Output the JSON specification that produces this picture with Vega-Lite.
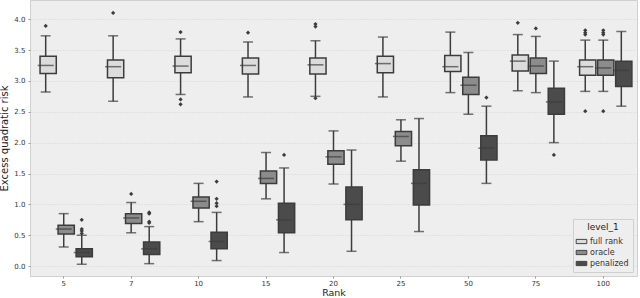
{
  "$schema": "https://vega.github.io/schema/vega-lite/v6.json",
  "autosize": {"type": "none"},
  "padding": {"left": 30, "top": 0, "right": 3, "bottom": 22},
  "width": 607,
  "height": 276,
  "background": "white",
  "config": {
    "font": "DejaVu Sans",
    "view": {"fill": "#eeeeee", "stroke": "#d0d0d0"},
    "axisY": {"title": "Excess quadratic risk", "values": [0, 0.5, 1, 1.5, 2, 2.5, 3, 3.5, 4], "format": ".1f", "labelOverlap": false, "labelFontSize": 7, "labelColor": "#333333", "titleFontSize": 10, "titleFontWeight": "normal", "titleColor": "#222222", "titlePadding": 4, "domain": false, "tickColor": "#999999", "tickSize": 2, "labelPadding": 3, "grid": true, "gridColor": "#cccccc", "gridDash": [1, 2], "gridWidth": 0.8, "zindex": 1},
    "axisX": {"labelAngle": 0, "labelFontSize": 7, "labelColor": "#333333", "titleFontSize": 9.5, "titleFontWeight": "normal", "titleColor": "#222222", "titlePadding": 1, "domain": false, "tickColor": "#999999", "tickSize": 2, "labelPadding": 1, "grid": false}
  },
  "datasets": {
    "boxes": [
      {"rank": "5", "level_1": "full rank", "lo": 2.82, "q1": 3.12, "med": 3.25, "q3": 3.40, "hi": 3.73},
      {"rank": "5", "level_1": "oracle", "lo": 0.31, "q1": 0.52, "med": 0.60, "q3": 0.66, "hi": 0.85},
      {"rank": "5", "level_1": "penalized", "lo": 0.03, "q1": 0.15, "med": 0.22, "q3": 0.28, "hi": 0.50},
      {"rank": "7", "level_1": "full rank", "lo": 2.67, "q1": 3.05, "med": 3.23, "q3": 3.34, "hi": 3.73},
      {"rank": "7", "level_1": "oracle", "lo": 0.54, "q1": 0.69, "med": 0.78, "q3": 0.85, "hi": 1.03},
      {"rank": "7", "level_1": "penalized", "lo": 0.04, "q1": 0.19, "med": 0.28, "q3": 0.39, "hi": 0.64},
      {"rank": "10", "level_1": "full rank", "lo": 2.78, "q1": 3.13, "med": 3.24, "q3": 3.40, "hi": 3.68},
      {"rank": "10", "level_1": "oracle", "lo": 0.72, "q1": 0.94, "med": 1.05, "q3": 1.12, "hi": 1.34},
      {"rank": "10", "level_1": "penalized", "lo": 0.09, "q1": 0.28, "med": 0.40, "q3": 0.55, "hi": 0.87},
      {"rank": "15", "level_1": "full rank", "lo": 2.74, "q1": 3.11, "med": 3.25, "q3": 3.37, "hi": 3.63},
      {"rank": "15", "level_1": "oracle", "lo": 1.09, "q1": 1.34, "med": 1.42, "q3": 1.54, "hi": 1.84},
      {"rank": "15", "level_1": "penalized", "lo": 0.22, "q1": 0.54, "med": 0.75, "q3": 1.02, "hi": 1.59},
      {"rank": "20", "level_1": "full rank", "lo": 2.75, "q1": 3.11, "med": 3.26, "q3": 3.37, "hi": 3.65},
      {"rank": "20", "level_1": "oracle", "lo": 1.33, "q1": 1.65, "med": 1.77, "q3": 1.87, "hi": 2.19},
      {"rank": "20", "level_1": "penalized", "lo": 0.24, "q1": 0.75, "med": 1.00, "q3": 1.28, "hi": 1.88},
      {"rank": "25", "level_1": "full rank", "lo": 2.74, "q1": 3.13, "med": 3.28, "q3": 3.40, "hi": 3.71},
      {"rank": "25", "level_1": "oracle", "lo": 1.70, "q1": 1.95, "med": 2.10, "q3": 2.18, "hi": 2.37},
      {"rank": "25", "level_1": "penalized", "lo": 0.56, "q1": 0.99, "med": 1.34, "q3": 1.56, "hi": 2.39},
      {"rank": "50", "level_1": "full rank", "lo": 2.81, "q1": 3.15, "med": 3.23, "q3": 3.41, "hi": 3.79},
      {"rank": "50", "level_1": "oracle", "lo": 2.46, "q1": 2.78, "med": 2.93, "q3": 3.06, "hi": 3.46},
      {"rank": "50", "level_1": "penalized", "lo": 1.34, "q1": 1.72, "med": 1.91, "q3": 2.11, "hi": 2.59},
      {"rank": "75", "level_1": "full rank", "lo": 2.84, "q1": 3.16, "med": 3.32, "q3": 3.42, "hi": 3.75},
      {"rank": "75", "level_1": "oracle", "lo": 2.81, "q1": 3.12, "med": 3.24, "q3": 3.37, "hi": 3.72},
      {"rank": "75", "level_1": "penalized", "lo": 2.00, "q1": 2.46, "med": 2.66, "q3": 2.88, "hi": 3.32},
      {"rank": "100", "level_1": "full rank", "lo": 2.83, "q1": 3.09, "med": 3.23, "q3": 3.34, "hi": 3.66},
      {"rank": "100", "level_1": "oracle", "lo": 2.83, "q1": 3.09, "med": 3.21, "q3": 3.34, "hi": 3.66},
      {"rank": "100", "level_1": "penalized", "lo": 2.59, "q1": 2.91, "med": 3.17, "q3": 3.32, "hi": 3.80}
    ],
    "outliers": [
      {"rank": "5", "level_1": "full rank", "v": 3.89},
      {"rank": "5", "level_1": "penalized", "v": 0.75},
      {"rank": "5", "level_1": "penalized", "v": 0.60},
      {"rank": "5", "level_1": "penalized", "v": 0.57},
      {"rank": "5", "level_1": "penalized", "v": 0.53},
      {"rank": "7", "level_1": "full rank", "v": 4.10},
      {"rank": "7", "level_1": "oracle", "v": 1.17},
      {"rank": "7", "level_1": "penalized", "v": 0.87},
      {"rank": "7", "level_1": "penalized", "v": 0.85},
      {"rank": "7", "level_1": "penalized", "v": 0.72},
      {"rank": "7", "level_1": "penalized", "v": 0.70},
      {"rank": "10", "level_1": "full rank", "v": 3.79},
      {"rank": "10", "level_1": "full rank", "v": 2.70},
      {"rank": "10", "level_1": "full rank", "v": 2.62},
      {"rank": "10", "level_1": "penalized", "v": 1.37},
      {"rank": "10", "level_1": "penalized", "v": 1.09},
      {"rank": "10", "level_1": "penalized", "v": 1.02},
      {"rank": "10", "level_1": "penalized", "v": 0.97},
      {"rank": "15", "level_1": "full rank", "v": 3.78},
      {"rank": "15", "level_1": "penalized", "v": 1.80},
      {"rank": "20", "level_1": "full rank", "v": 3.92},
      {"rank": "20", "level_1": "full rank", "v": 3.88},
      {"rank": "20", "level_1": "full rank", "v": 2.72},
      {"rank": "50", "level_1": "penalized", "v": 2.73},
      {"rank": "75", "level_1": "full rank", "v": 3.94},
      {"rank": "75", "level_1": "oracle", "v": 3.85},
      {"rank": "75", "level_1": "penalized", "v": 1.80},
      {"rank": "100", "level_1": "full rank", "v": 3.82},
      {"rank": "100", "level_1": "full rank", "v": 3.78},
      {"rank": "100", "level_1": "full rank", "v": 3.75},
      {"rank": "100", "level_1": "full rank", "v": 2.51},
      {"rank": "100", "level_1": "oracle", "v": 3.82},
      {"rank": "100", "level_1": "oracle", "v": 3.78},
      {"rank": "100", "level_1": "oracle", "v": 3.75},
      {"rank": "100", "level_1": "oracle", "v": 2.51}
    ]
  },
  "encoding": {
    "x": {
      "field": "rank", "type": "nominal",
      "scale": {"domain": ["5", "7", "10", "15", "20", "25", "50", "75", "100"], "paddingInner": 0, "paddingOuter": 0},
      "axis": {"title": "Rank"}
    },
    "xOffset": {
      "field": "level_1", "type": "nominal",
      "scale": {"domain": ["full rank", "oracle", "penalized"], "paddingInner": 0, "paddingOuter": 0.37}
    }
  },
  "layer": [
    {
      "data": {"name": "boxes"},
      "mark": {"type": "rule", "color": "#3c3c3c", "strokeWidth": 1.5},
      "encoding": {
        "y": {
          "field": "lo", "type": "quantitative",
          "scale": {"domain": [-0.16, 4.31], "nice": false, "zero": false},
          "axis": {"title": "Excess quadratic risk", "values": [0, 0.5, 1, 1.5, 2, 2.5, 3, 3.5, 4]}
        },
        "y2": {"field": "hi"}
      }
    },
    {
      "data": {"name": "boxes"},
      "mark": {"type": "tick", "color": "#3c3c3c", "size": 10, "thickness": 1.5},
      "encoding": {"y": {"field": "lo", "type": "quantitative", "axis": {"title": "Excess quadratic risk", "values": [0, 0.5, 1, 1.5, 2, 2.5, 3, 3.5, 4]}}}
    },
    {
      "data": {"name": "boxes"},
      "mark": {"type": "tick", "color": "#3c3c3c", "size": 10, "thickness": 1.5},
      "encoding": {"y": {"field": "hi", "type": "quantitative", "axis": {"title": "Excess quadratic risk", "values": [0, 0.5, 1, 1.5, 2, 2.5, 3, 3.5, 4]}}}
    },
    {
      "data": {"name": "boxes"},
      "mark": {"type": "bar", "stroke": "#3c3c3c", "strokeWidth": 1.5, "width": {"band": 0.9}},
      "encoding": {
        "y": {"field": "q1", "type": "quantitative", "axis": {"title": "Excess quadratic risk", "values": [0, 0.5, 1, 1.5, 2, 2.5, 3, 3.5, 4]}},
        "y2": {"field": "q3"},
        "color": {
          "field": "level_1", "type": "nominal",
          "scale": {"domain": ["full rank", "oracle", "penalized"], "range": ["#dcdcdc", "#8c8c8c", "#4b4b4b"]},
          "legend": {"title": "level_1", "orient": "bottom-right", "offset": 4, "titleFontSize": 9, "titleFontWeight": "normal", "titleColor": "#222222", "titleAnchor": "middle", "labelFontSize": 8, "labelColor": "#333333", "symbolType": "M-1.5,-0.6H1.5V0.6H-1.5Z", "symbolSize": 50, "symbolStrokeColor": "#444444", "symbolStrokeWidth": 1, "fillColor": "#eeeeee", "strokeColor": "#d0d0d0", "padding": 4, "rowPadding": 2}
        }
      }
    },
    {
      "data": {"name": "boxes"},
      "mark": {"type": "tick", "color": "#3c3c3c", "size": 16, "thickness": 1.5},
      "encoding": {"y": {"field": "med", "type": "quantitative", "axis": {"title": "Excess quadratic risk", "values": [0, 0.5, 1, 1.5, 2, 2.5, 3, 3.5, 4]}}}
    },
    {
      "data": {"name": "outliers"},
      "mark": {"type": "point", "shape": "diamond", "filled": true, "color": "#3c3c3c", "size": 18, "opacity": 1},
      "encoding": {"y": {"field": "v", "type": "quantitative", "axis": {"title": "Excess quadratic risk", "values": [0, 0.5, 1, 1.5, 2, 2.5, 3, 3.5, 4]}}}
    }
  ]
}
